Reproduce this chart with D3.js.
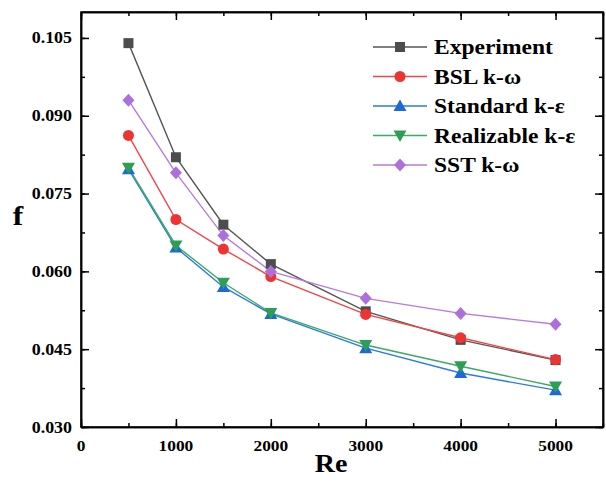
<!DOCTYPE html>
<html><head><meta charset="utf-8">
<script src="https://cdn.jsdelivr.net/npm/d3@7"></script>
<style>body{margin:0;background:#fff}svg{display:block}</style>
</head><body>
<script>
const re = [500, 1000, 1500, 2000, 3000, 4000, 5000];
const experiment = [0.1040, 0.0820, 0.0690, 0.0614, 0.0523, 0.0468, 0.0429];
const bsl = [0.0862, 0.0700, 0.0643, 0.0590, 0.0517, 0.0472, 0.0430];
const standard = [0.0797, 0.0646, 0.0570, 0.0518, 0.0452, 0.0404, 0.0371];
const realizable = [0.0800, 0.0650, 0.0578, 0.0520, 0.0458, 0.0417, 0.0378];
const sst = [0.0930, 0.0790, 0.0669, 0.0600, 0.0548, 0.0519, 0.0498];
const seriesNames = ["Experiment", "BSL k-ω", "Standard k-ε", "Realizable k-ε", "SST k-ω"];
const xTicks = [0, 1000, 2000, 3000, 4000, 5000];
const yTicks = [0.030, 0.045, 0.060, 0.075, 0.090, 0.105];

const series = [
  {name: seriesNames[0], values: experiment, line: "#555555", fill: "#4d4d4d", sym: "square"},
  {name: seriesNames[1], values: bsl, line: "#f04545", fill: "#ee3333", sym: "circle"},
  {name: seriesNames[2], values: standard, line: "#2a7ae2", fill: "#1f68d8", sym: "up"},
  {name: seriesNames[3], values: realizable, line: "#3aaa66", fill: "#2e9e55", sym: "down"},
  {name: seriesNames[4], values: sst, line: "#b57ce0", fill: "#ad6fdb", sym: "diamond"}
];

const W = 606, H = 483;
const m = {l: 81, r: 3, t: 12, b: 56};
const SX = 1.12; // horizontal text stretch
const svg = d3.select("body").append("svg").attr("width", W).attr("height", H);
const x = d3.scaleLinear().domain([0, 5500]).range([m.l, W - m.r]);
const y = d3.scaleLinear().domain([0.030, 0.110]).range([H - m.b, m.t]);

const font = "'Liberation Serif','Times New Roman',serif";

function stext(parent, px, py, str, size, anchor){
  return parent.append("text").attr("transform",`translate(${px},${py}) scale(${SX},1)`)
    .attr("text-anchor",anchor).attr("font-family",font).attr("font-weight","bold")
    .attr("font-size",size).text(str);
}

// axes frame
const g = svg.append("g");
function axisStyle(sel){ sel.selectAll("path,line").attr("stroke","#000").attr("stroke-width",1.5); sel.selectAll("text").remove(); }
const xMinor = d3.range(0, 5501, 500);
const yMinor = d3.range(0.030, 0.1101, 0.0075);
g.append("g").attr("transform",`translate(0,${y(0.030)})`).call(d3.axisTop(x).tickValues(xMinor).tickSize(4).tickSizeOuter(0)).call(axisStyle);
g.append("g").attr("transform",`translate(0,${y(0.030)})`).call(d3.axisTop(x).tickValues(xTicks).tickSize(8).tickSizeOuter(0)).call(axisStyle);
g.append("g").attr("transform",`translate(0,${y(0.110)})`).call(d3.axisBottom(x).tickValues(xMinor).tickSize(4).tickSizeOuter(0)).call(axisStyle);
g.append("g").attr("transform",`translate(0,${y(0.110)})`).call(d3.axisBottom(x).tickValues(xTicks).tickSize(8).tickSizeOuter(0)).call(axisStyle);
g.append("g").attr("transform",`translate(${x(0)},0)`).call(d3.axisRight(y).tickValues(yMinor).tickSize(4).tickSizeOuter(0)).call(axisStyle);
g.append("g").attr("transform",`translate(${x(0)},0)`).call(d3.axisRight(y).tickValues(yTicks).tickSize(8).tickSizeOuter(0)).call(axisStyle);
g.append("g").attr("transform",`translate(${x(5500)},0)`).call(d3.axisLeft(y).tickValues(yMinor).tickSize(4).tickSizeOuter(0)).call(axisStyle);
g.append("g").attr("transform",`translate(${x(5500)},0)`).call(d3.axisLeft(y).tickValues(yTicks).tickSize(8).tickSizeOuter(0)).call(axisStyle);
g.append("rect").attr("x",x(0)).attr("y",y(0.110)).attr("width",x(5500)-x(0)).attr("height",y(0.030)-y(0.110))
  .attr("fill","none").attr("stroke","#000").attr("stroke-width",1.5);

// tick labels
const xl = svg.append("g");
xTicks.forEach(d => stext(xl, x(d), y(0.030) + 24, String(d), 15.5, "middle"));
const yl = svg.append("g");
yTicks.forEach(d => stext(yl, x(0) - 9, y(d) + 5.5, d3.format(".3f")(d), 16, "end"));

// axis titles
stext(svg, 331, 472, "Re", 25, "middle");
stext(svg, 18, 225, "f", 28, "middle");

// symbols
function marker(sel, s){
  if (s.sym === "circle") sel.append("circle").attr("r",5.5).attr("fill",s.fill);
  else if (s.sym === "square") sel.append("rect").attr("x",-5).attr("y",-5).attr("width",10).attr("height",10).attr("fill",s.fill);
  else if (s.sym === "up") sel.append("path").attr("d","M0,-6.5L6.5,5L-6.5,5Z").attr("fill",s.fill);
  else if (s.sym === "down") sel.append("path").attr("d","M0,6.5L6.5,-5L-6.5,-5Z").attr("fill",s.fill);
  else if (s.sym === "diamond") sel.append("path").attr("d","M0,-6.5L6,0L0,6.5L-6,0Z").attr("fill",s.fill);
}

const line = d3.line().x((d,i) => x(re[i])).y(d => y(d));
series.forEach(s => {
  svg.append("path").datum(s.values).attr("d", line).attr("fill","none").attr("stroke", s.line).attr("stroke-width",1.4);
});
series.forEach(s => {
  s.values.forEach((v,i) => {
    const gg = svg.append("g").attr("transform",`translate(${x(re[i])},${y(v)})`);
    marker(gg, s);
  });
});

// legend
const lg = svg.append("g");
series.forEach((s,i) => {
  const yy = 47 + i*29.5;
  lg.append("line").attr("x1",373).attr("x2",427).attr("y1",yy).attr("y2",yy).attr("stroke",s.line).attr("stroke-width",1.4);
  marker(lg.append("g").attr("transform",`translate(400,${yy})`), s);
  stext(lg, 434, yy + 7, s.name, 21, "start");
});
</script>
</body></html>
